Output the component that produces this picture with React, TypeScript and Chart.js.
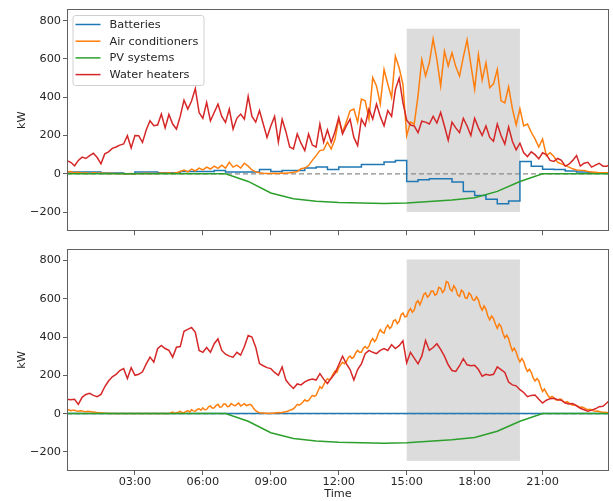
import { useEffect, useRef } from 'react';
import { Chart, registerables } from 'chart.js';

Chart.register(...registerables);

// ---- data -------------------------------------------------------------
// 10-minute samples from 00:00 to 24:00 (145 values), one row per hour.
const TOP_WATER_HEATERS = [
  69, 60, 42, 70, 87, 80,
  95, 107, 85, 52, 104, 115,
  133, 140, 150, 156, 199, 135,
  200, 199, 164, 230, 277, 251,
  255, 312, 240, 310, 260, 234,
  300, 385, 338, 380, 445, 320,
  290, 373, 277, 320, 364, 300,
  268, 338, 234, 290, 312, 286,
  405, 300, 270, 330, 260, 190,
  250, 300, 165, 285, 220, 140,
  130, 208, 160, 121, 208, 150,
  140, 260, 165, 230, 164, 220,
  294, 208, 250, 286, 190, 147,
  286, 251, 338, 286, 364, 300,
  251, 330, 300, 440, 500, 372,
  280, 255, 250, 215, 275, 270,
  260, 300, 265, 320, 250, 175,
  270, 240, 215, 290, 250, 200,
  290, 240, 200, 250, 190, 170,
  260, 200, 155, 245, 170, 125,
  160, 110, 90, 115, 100, 78,
  110, 100, 70, 65, 80, 70,
  40, 50, 70, 95, 40, 55,
  60, 35, 45, 55, 40, 40,
  50,
];

const TOP_AIR_CONDITIONERS = [
  10, 12, 5, 8, 3, 6,
  2, 5, 3, 4, 2, 3,
  1, 2, 0, 1, 0, 1,
  0, 2, 1, 3, 2, 1,
  2, 4, 3, 5, 2, 6,
  12, 20, 10, 25, 15, 30,
  20, 35, 25, 40, 28, 45,
  30, 60, 35, 45, 30, 55,
  40, 20, 10, 5, 3, 2,
  2, 3, 2, 4, 3, 5,
  8, 12, 26, 30, 43, 70,
  95, 121, 125, 166, 130, 180,
  286, 217, 270, 329, 338, 270,
  390, 381, 286, 502, 459, 364,
  545, 468, 398, 614, 554, 468,
  199, 270, 260, 407, 597, 511,
  580, 705, 597, 459, 641, 563,
  632, 560, 510, 610, 700, 570,
  442, 623, 490, 580, 450, 470,
  545, 381, 370, 455, 340, 255,
  340, 250, 260, 217, 182, 140,
  182, 95, 110, 90, 60, 52,
  43, 35, 26, 20, 18, 17,
  12, 10, 8, 6, 5, 5,
  5,
];

const BOTTOM_WATER_HEATERS = [
  75, 72, 75, 48, 85, 100,
  106, 95, 88, 100, 140, 170,
  192, 205, 225, 235, 183, 240,
  200, 205, 218, 260, 295, 269,
  339, 356, 340, 330, 295, 347,
  350, 430, 440, 450, 425, 330,
  320, 345, 320, 365, 390, 330,
  310, 300, 295, 320, 305, 350,
  408, 400, 347, 261, 250, 240,
  235, 215, 200, 244, 175, 150,
  131, 155, 150, 166, 175, 180,
  175, 209, 180, 157, 185, 210,
  255, 300, 261, 230, 175, 230,
  260, 313, 330, 320, 313, 330,
  340, 330, 360, 340, 355, 380,
  265, 320, 290, 260, 300, 382,
  330, 345, 365, 335, 300, 255,
  225, 220, 250, 287, 255, 250,
  252, 230, 195, 205, 200, 205,
  244, 230, 215, 165, 150, 145,
  125, 110, 88, 95, 97, 75,
  55, 70, 78, 80, 72, 70,
  55, 50, 52, 40, 28, 20,
  12, 18, 25, 36, 38, 55,
  72,
];

// 5-minute samples, 00:00 .. 24:00 (289 values), one row per hour.
const BOTTOM_AIR_CONDITIONERS = [
  18, 20, 15, 17, 17, 14, 12, 15, 14, 11, 10, 12,
  11, 9, 8, 7, 5, 4, 3, 3, 2, 2, 1, 1,
  1, 1, 0, 0, 0, 0, 0, 0, 0, 0, 0, 0,
  0, 0, 0, 0, 0, 0, 0, 0, 0, 0, 0, 0,
  0, 0, 0, 0, 0, 0, 0, 3, 8, 2, 4, 7,
  12, 5, 6, 10, 15, 8, 20, 14, 12, 22, 25, 18,
  30, 20, 22, 35, 40, 28, 30, 42, 48, 33, 35, 50,
  50, 36, 38, 52, 45, 40, 48, 55, 40, 45, 52, 42,
  45, 48, 42, 25, 15, 8, 5, 3, 3, 2, 2, 1,
  2, 2, 3, 4, 5, 4, 6, 8, 10, 12, 18, 20,
  25, 35, 48, 44, 50, 60, 72, 65, 68, 82, 95, 90,
  96, 118, 140, 132, 150, 170, 182, 175, 186, 208, 222, 215,
  240, 256, 268, 260, 270, 292, 300, 288, 296, 318, 330, 320,
  320, 342, 350, 340, 352, 378, 392, 376, 390, 420, 438, 425,
  420, 448, 462, 445, 455, 485, 490, 470, 482, 515, 525, 505,
  508, 535, 548, 530, 540, 578, 590, 568, 592, 622, 630, 608,
  618, 640, 640, 618, 626, 660, 655, 632, 645, 690, 684, 650,
  640, 668, 652, 620, 612, 645, 636, 605, 602, 630, 620, 595,
  592, 610, 594, 560, 540, 562, 545, 510, 490, 510, 496, 468,
  445, 468, 455, 420, 395, 410, 392, 355, 328, 342, 322, 290,
  270, 288, 272, 240, 220, 232, 216, 188, 170, 182, 172, 140,
  115, 128, 110, 92, 82, 90, 84, 72, 70, 76, 74, 62,
  58, 62, 56, 48, 44, 46, 42, 36, 33, 34, 30, 24,
  20, 22, 20, 14, 12, 13, 11, 8, 6, 7, 6, 5,
  4,
];

// Hourly PV output, 00:00 .. 24:00 (same in both panels).
const PV_SYSTEMS = [
  0, 0, 0, 0, 0, 0, 0, 0, -40, -100, -130, -143, -150,
  -153, -155, -153, -145, -137, -125, -92, -40, 0, 0, 0, 0,
];

// Half-hourly battery set-points, 00:00 .. 24:00.
const TOP_BATTERIES = [
  9, 9, 9, 4, 4, 0,
  9, 9, 5, 5, 12, 12,
  12, 17, 9, 9, 9, 22,
  12, 17, 17, 30, 35, 22,
  35, 35, 48, 48, 61, 69,
  -40, -31, -26, -26, -43, -92,
  -113, -133, -156, -142, 64, 40,
  24, 22, 14, 9, 5, 5,
  5,
];
const BOTTOM_BATTERIES = [0, 0];

const SERIES_NAMES = ['Batteries', 'Air conditioners', 'PV systems', 'Water heaters'];
const SERIES_COLORS = ['#1f77b4', '#ff7f0e', '#2ca02c', '#d62728'];

const Y_TICKS = [-200, 0, 200, 400, 600, 800];
const X_TICKS = [180, 360, 540, 720, 900, 1080, 1260]; // minutes
const PEAK_WINDOW = [900, 1200]; // 15:00 – 20:00
const TOP_PEAK_BAND = [-200, 758];
const BOTTOM_PEAK_BAND = [-247, 805];

// ---- helpers ---------------------------------------------------------
const FONT = '"DejaVu Sans", "Liberation Sans", sans-serif';
const FONT_SIZE = 11.3;
const TEXT_COLOR = '#262626';
const SPINE_COLOR = '#606060';
const LINE_WIDTH = 1.5;

const onGrid = (values: number[], stepMinutes: number) =>
  values.map((y, i) => ({ x: i * stepMinutes, y }));

const fmtY = (v: number) => (v < 0 ? '\u2212' + Math.abs(v) : String(v));
const fmtX = (v: number) => String(Math.round(v / 60)).padStart(2, '0') + ':00';

const shadePlugin = (band: number[]) => ({
  id: 'peakShade',
  beforeDatasetsDraw(chart: any) {
    const { ctx, scales } = chart;
    const x0 = scales.x.getPixelForValue(PEAK_WINDOW[0]);
    const x1 = scales.x.getPixelForValue(PEAK_WINDOW[1]);
    const y0 = scales.y.getPixelForValue(band[1]);
    const y1 = scales.y.getPixelForValue(band[0]);
    ctx.save();
    ctx.fillStyle = '#dcdcdc';
    ctx.fillRect(x0, y0, x1 - x0, y1 - y0);
    ctx.restore();
  },
});

const framePlugin = {
  id: 'frame',
  afterDatasetsDraw(chart: any) {
    const { ctx, chartArea: a } = chart;
    ctx.save();
    ctx.strokeStyle = SPINE_COLOR;
    ctx.lineWidth = 1;
    ctx.strokeRect(Math.round(a.left) + 0.5, Math.round(a.top) + 0.5,
      Math.round(a.right - a.left) - 1, Math.round(a.bottom - a.top) - 1);
    ctx.restore();
  },
};

const legendPlugin = {
  id: 'boxLegend',
  afterDraw(chart: any) {
    const { ctx, chartArea: a } = chart;
    const left = a.left + 5.5;
    const top = a.top + 6;
    const w = 131;
    const h = 70;
    ctx.save();
    ctx.beginPath();
    ctx.roundRect(left + 0.5, top + 0.5, w, h, 2.5);
    ctx.fillStyle = 'rgba(255,255,255,0.85)';
    ctx.fill();
    ctx.strokeStyle = '#d0d0d0';
    ctx.lineWidth = 1;
    ctx.stroke();
    ctx.font = `${FONT_SIZE}px ${FONT}`;
    ctx.textBaseline = 'middle';
    ctx.textAlign = 'left';
    SERIES_NAMES.forEach((name, i) => {
      const y = top + 9.5 + i * 16.7;
      ctx.beginPath();
      ctx.moveTo(left + 3, y);
      ctx.lineTo(left + 28, y);
      ctx.strokeStyle = SERIES_COLORS[i];
      ctx.lineWidth = LINE_WIDTH;
      ctx.stroke();
      ctx.fillStyle = TEXT_COLOR;
      ctx.fillText(name, left + 37, y + 0.5);
    });
    ctx.restore();
  },
};

function buildConfig(opts: {
  wh: number[];
  ac: number[];
  acStep: number;
  bat: number[];
  batStep: number;
  band: number[];
  showLegend: boolean;
  showXLabels: boolean;
  padTop: number;
  xAxisHeight: number;
}): any {
  const line = (data: any[], color: string, order: number, extra: any = {}) => ({
    data,
    borderColor: color,
    borderWidth: LINE_WIDTH,
    pointRadius: 0,
    fill: false,
    tension: 0,
    order,
    ...extra,
  });
  return {
    type: 'line',
    data: {
      datasets: [
        line([{ x: 0, y: 0 }, { x: 1440, y: 0 }], '#8c8c8c', 5, { borderDash: [5, 3], borderWidth: 1.2 }),
        line(onGrid(opts.bat, opts.batStep), SERIES_COLORS[0], 4, { stepped: 'before' }),
        line(onGrid(opts.ac, opts.acStep), SERIES_COLORS[1], 3),
        line(onGrid(PV_SYSTEMS, 60), SERIES_COLORS[2], 2),
        line(onGrid(opts.wh, 10), SERIES_COLORS[3], 1),
      ],
    },
    options: {
      animation: false,
      responsive: false,
      maintainAspectRatio: false,
      events: [],
      layout: { padding: { top: opts.padTop, right: 4, left: 0, bottom: 0 } },
      plugins: { legend: { display: false }, tooltip: { enabled: false } },
      scales: {
        x: {
          type: 'linear',
          min: 0,
          max: 1436,
          afterFit: (s: any) => { s.height = opts.xAxisHeight; },
          afterBuildTicks: (s: any) => { s.ticks = X_TICKS.map((value) => ({ value })); },
          border: { display: false },
          grid: { drawOnChartArea: false, drawTicks: true, tickLength: 4, color: SPINE_COLOR },
          ticks: {
            display: opts.showXLabels,
            maxRotation: 0,
            autoSkip: false,
            padding: 0,
            color: TEXT_COLOR,
            font: { family: FONT, size: FONT_SIZE },
            callback: (v: any) => fmtX(Number(v)),
          },
          title: {
            display: opts.showXLabels,
            text: 'Time',
            color: TEXT_COLOR,
            font: { family: FONT, size: FONT_SIZE },
            padding: { top: 0, bottom: 0.3 },
          },
        },
        y: {
          min: -300,
          max: 861,
          afterFit: (s: any) => { s.width = 67; },
          afterBuildTicks: (s: any) => { s.ticks = Y_TICKS.map((value) => ({ value })); },
          border: { display: false },
          grid: { drawOnChartArea: false, drawTicks: true, tickLength: 4, color: SPINE_COLOR },
          ticks: {
            padding: 2,
            color: TEXT_COLOR,
            font: { family: FONT, size: FONT_SIZE },
            callback: (v: any) => fmtY(Number(v)),
          },
          title: {
            display: true,
            text: 'kW',
            color: TEXT_COLOR,
            font: { family: FONT, size: FONT_SIZE },
            padding: { top: 15.7, bottom: 0 },
          },
        },
      },
    },
    plugins: [shadePlugin(opts.band), framePlugin, ...(opts.showLegend ? [legendPlugin] : [])],
  };
}

function Panel({ top, height, config }: { top: number; height: number; config: () => any }) {
  const ref = useRef<HTMLCanvasElement | null>(null);
  useEffect(() => {
    if (!ref.current) return;
    const chart = new Chart(ref.current, config());
    return () => chart.destroy();
  }, []);
  return (
    <canvas
      ref={ref}
      width={613}
      height={height}
      style={{ position: 'absolute', left: 0, top, width: 613, height }}
    />
  );
}

export default function App() {
  return (
    <div style={{ position: 'absolute', left: 0, top: 0, width: 613, height: 501, background: '#fff' }}>
      <Panel
        top={0}
        height={240}
        config={() =>
          buildConfig({
            wh: TOP_WATER_HEATERS,
            ac: TOP_AIR_CONDITIONERS,
            acStep: 10,
            bat: TOP_BATTERIES,
            batStep: 30,
            band: TOP_PEAK_BAND,
            showLegend: true,
            showXLabels: false,
            padTop: 9,
            xAxisHeight: 7,
          })
        }
      />
      <Panel
        top={240}
        height={261}
        config={() =>
          buildConfig({
            wh: BOTTOM_WATER_HEATERS,
            ac: BOTTOM_AIR_CONDITIONERS,
            acStep: 5,
            bat: BOTTOM_BATTERIES,
            batStep: 1440,
            band: BOTTOM_PEAK_BAND,
            showLegend: false,
            showXLabels: true,
            padTop: 8,
            xAxisHeight: 30,
          })
        }
      />
    </div>
  );
}
